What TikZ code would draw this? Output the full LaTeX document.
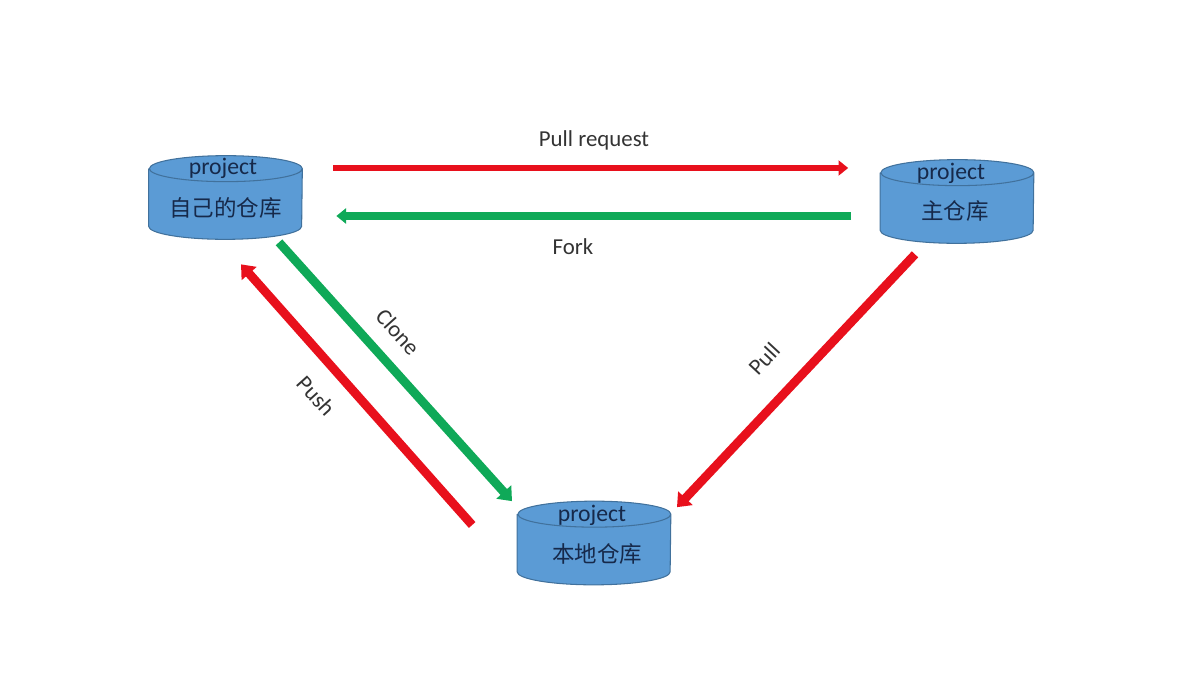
\documentclass[tikz,border=0pt]{standalone}
\usepackage{fontspec}
\setmainfont{Carlito}
\newfontfamily\cjk{Noto Sans CJK SC}
\usepackage{xcolor}
\usetikzlibrary{arrows.meta}
\definecolor{Repo}{HTML}{5B9BD5}
\definecolor{RepoLine}{HTML}{41719C}
\definecolor{Ink}{HTML}{16294A}
\definecolor{Label}{HTML}{333333}
\definecolor{PushRed}{HTML}{E8101C}
\definecolor{CloneGreen}{HTML}{0FA958}
\newcommand{\repodrum}[1]{%
  \draw[drum] ([shift={(0,13)}]#1.north west) -- ([shift={(0,-13)}]#1.south west)
    arc[start angle=180,end angle=360,x radius=1.53cm,y radius=0.26cm]
    -- ([shift={(0,13)}]#1.north east)
    arc[start angle=0,end angle=180,x radius=1.53cm,y radius=0.26cm]
    arc[start angle=180,end angle=360,x radius=1.53cm,y radius=0.26cm];
}

\begin{document}
\begin{tikzpicture}[x=0.02cm,y=-0.02cm,
  repo/.style={minimum width=3.06cm,minimum height=1.66cm,inner sep=0pt},
  drum/.style={draw=RepoLine,fill=Repo,line width=0.6pt,line join=round},
  tag/.style={text=Ink,font=\fontsize{13.5}{15}\selectfont,inner sep=0pt},
  place/.style={text=Ink,font=\cjk\fontsize{12.8}{15}\selectfont,inner sep=0pt},
  flow/.style={text=Label,font=\fontsize{13}{15}\selectfont,inner sep=0pt},
  redline/.style={-{Triangle[length=5.5pt,width=8.5pt]},line width=3.8pt,color=PushRed},
  greenline/.style={-{Triangle[length=5.5pt,width=8.5pt]},line width=4.1pt,color=CloneGreen},
  reddiag/.style={-{Triangle[length=7pt,width=11pt]},line width=5pt,color=PushRed},
  greendiag/.style={-{Triangle[length=7pt,width=11pt]},line width=5pt,color=CloneGreen}
]
\useasboundingbox (0,0) rectangle (1200,675);
% three repositories
\node[repo] (own) at (225.5,197.5) {};
\node[repo] (main) at (957,201.5) {};
\node[repo] (local) at (594,543) {};
\repodrum{own}
\repodrum{main}
\repodrum{local}
\node[tag] (ownname) at (223,168.5) {project};
\node[tag] (mainname) at (951,173.5) {project};
\node[tag] (localname) at (592,515.5) {project};
\node[place] (ownrepo) at (225.5,208) {自己的仓库};
\node[place] (mainrepo) at (955,211) {主仓库};
\node[place] (localrepo) at (597,554) {本地仓库};

% arrows
\draw[redline] ([shift={(31,-29.5)}]own.east) -- ([shift={(-32,-33.5)}]main.west);
\draw[greenline] ([shift={(-29,14.5)}]main.west) -- ([shift={(34,18.5)}]own.east);
\draw[greendiag] ([shift={(53.5,3)}]own.south) -- ([shift={(-82,0)}]local.north);
\draw[reddiag] ([shift={(-45,-18)}]local.west) -- ([shift={(15.5,25)}]own.south);
\draw[reddiag] ([shift={(-42,11)}]main.south) -- ([shift={(83,6)}]local.north);

\node[flow] (pullrequest) at (594,140) {Pull request};
\node[flow] (fork) at (573,247) {Fork};
\node[flow,rotate=-48] (clone) at (398,332) {Clone};
\node[flow,rotate=-48] (push) at (316,396) {Push};
\node[flow,rotate=47] (pull) at (764,359) {Pull};
\end{tikzpicture}
\end{document}
